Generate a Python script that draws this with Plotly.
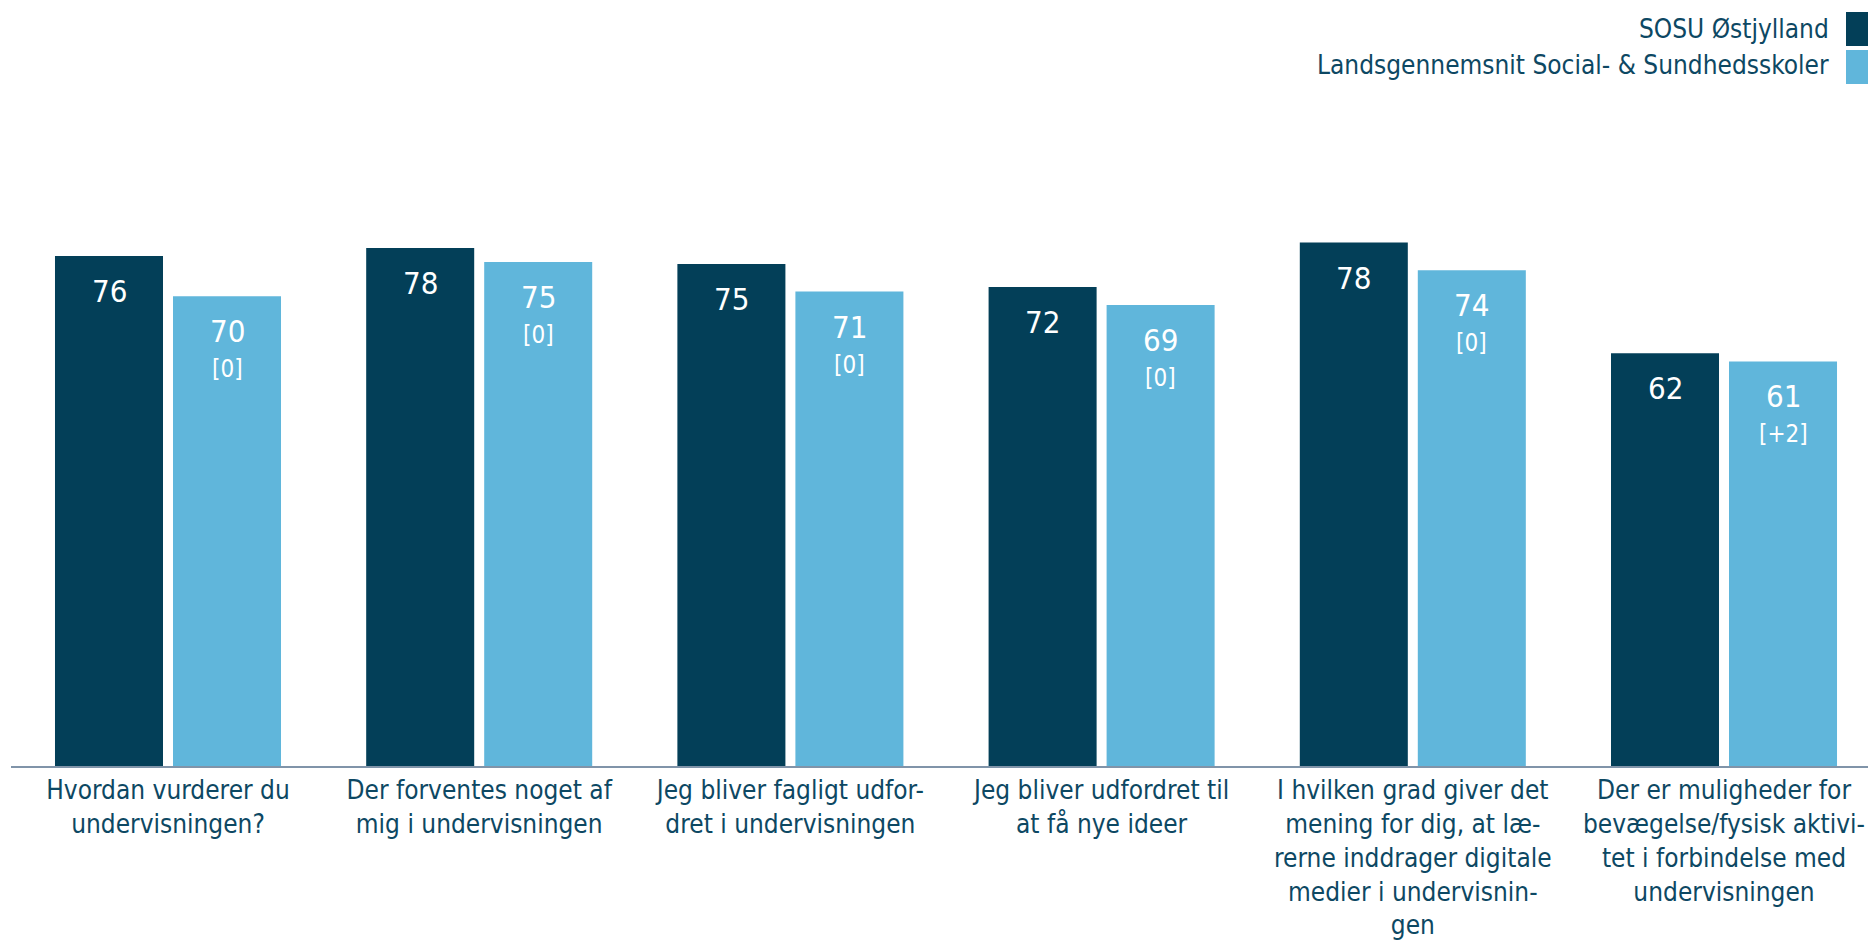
import plotly.graph_objects as go

categories = [
    "Hvordan vurderer du<br>undervisningen?",
    "Der forventes noget af<br>mig i undervisningen",
    "Jeg bliver fagligt udfor-<br>dret i undervisningen",
    "Jeg bliver udfordret til<br>at få nye ideer",
    "I hvilken grad giver det<br>mening for dig, at læ-<br>rerne inddrager digitale<br>medier i undervisnin-<br>gen",
    "Der er muligheder for<br>bevægelse/fysisk aktivi-<br>tet i forbindelse med<br>undervisningen",
]
series_names = ["SOSU Østjylland", "Landsgennemsnit Social- & Sundhedsskoler"]
sosu_values = [76.0, 77.2, 74.8, 71.4, 78.0, 61.5]
national_values = [70.0, 75.1, 70.7, 68.7, 73.9, 60.3]
sosu_labels = ["76", "78", "75", "72", "78", "62"]
national_labels = ["70", "75", "71", "69", "74", "61"]
national_change = ["[0]", "[0]", "[0]", "[0]", "[0]", "[+2]"]

DARK = "#033f58"
LIGHT = "#60b6db"
TEXT = "#0d4863"
FONT = "DejaVu Sans Condensed, DejaVu Sans, sans-serif"

fig = go.Figure()
fig.add_trace(go.Bar(x=categories, y=sosu_values, name=series_names[0],
                     marker=dict(color=DARK, line=dict(width=0)), hoverinfo="skip"))
fig.add_trace(go.Bar(x=categories, y=national_values, name=series_names[1],
                     marker=dict(color=LIGHT, line=dict(width=0)), hoverinfo="skip"))

annotations = []
for cat, v, lab in zip(categories, sosu_values, sosu_labels):
    annotations.append(dict(x=cat, y=v, xref="x", yref="y", text=lab, showarrow=False,
                            xanchor="center", yanchor="top", xshift=-59, yshift=-15,
                            font=dict(family=FONT, size=31, color="white")))
for cat, v, lab, ch in zip(categories, national_values, national_labels, national_change):
    annotations.append(dict(x=cat, y=v, xref="x", yref="y", text=lab, showarrow=False,
                            xanchor="center", yanchor="top", xshift=59, yshift=-15,
                            font=dict(family=FONT, size=31, color="white")))
    annotations.append(dict(x=cat, y=v, xref="x", yref="y", text=ch, showarrow=False,
                            xanchor="center", yanchor="top", xshift=59, yshift=-57,
                            font=dict(family=FONT, size=24, color="white")))

# custom legend (swatch on the right of the text)
annotations.append(dict(x=1, y=1, xref="paper", yref="paper", text=series_names[0],
                        showarrow=False, xanchor="right", yanchor="middle",
                        xshift=-37, yshift=66, font=dict(family=FONT, size=26, color=TEXT)))
annotations.append(dict(x=1, y=1, xref="paper", yref="paper", text=series_names[1],
                        showarrow=False, xanchor="right", yanchor="middle",
                        xshift=-37, yshift=30, font=dict(family=FONT, size=26, color=TEXT)))
shapes = [
    dict(type="rect", xref="paper", yref="paper", xsizemode="pixel", ysizemode="pixel",
         xanchor=1, yanchor=1, x0=-22, x1=2, y0=49, y1=83, fillcolor=DARK, line=dict(width=0)),
    dict(type="rect", xref="paper", yref="paper", xsizemode="pixel", ysizemode="pixel",
         xanchor=1, yanchor=1, x0=-22, x1=2, y0=11, y1=45, fillcolor=LIGHT, line=dict(width=0)),
]

fig.update_layout(
    width=1868, height=941,
    margin=dict(l=11, r=0, t=95, b=175),
    paper_bgcolor="white", plot_bgcolor="white",
    barmode="group", bargap=0.2416, bargroupgap=0.0847,
    showlegend=False,
    font=dict(family=FONT, size=26, color=TEXT),
    annotations=annotations, shapes=shapes,
    xaxis=dict(range=[-0.5045, 5.4627], showgrid=False, zeroline=False,
               showline=True, linecolor="#8094a9", linewidth=2, ticks="",
               tickfont=dict(family=FONT, size=26, color=TEXT), tickangle=0,
               fixedrange=True),
    yaxis=dict(range=[0, 100], visible=False, showgrid=False, zeroline=False, fixedrange=True),
)

fig.write_html(
    "out.html",
    config={"displayModeBar": False},
    post_script=("document.documentElement.style.overflow='hidden';"
                 "document.body.style.overflow='hidden';"
                 "document.body.style.margin='0';"),
)
